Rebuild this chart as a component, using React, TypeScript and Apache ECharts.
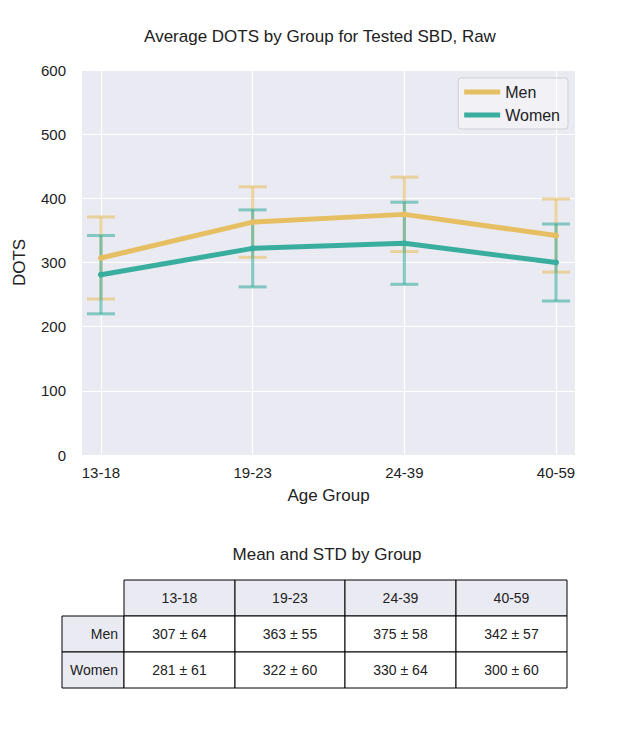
import { useEffect, useRef } from 'react';
import * as echarts from 'echarts';

const groups = ['13-18', '19-23', '24-39', '40-59'];
const menMean = [307, 363, 375, 342];
const menStd = [64, 55, 58, 57];
const womenMean = [281, 322, 330, 300];
const womenStd = [61, 60, 64, 60];
const yTicks = [0, 100, 200, 300, 400, 500, 600];

const MEN = '#e6bf63';
const WOMEN = '#3aae9e';
const FONT = 'Liberation Sans, Arial, sans-serif';

function errorSeries(name: string, mean: number[], std: number[], color: string) {
  return {
    type: 'custom',
    name: name + ' err',
    z: 1,
    silent: true,
    data: mean.map((m, i) => [i, m - std[i], m + std[i]]),
    renderItem: (_p: any, api: any) => {
      const lo = api.coord([api.value(0), api.value(1)]);
      const hi = api.coord([api.value(0), api.value(2)]);
      const w = 14;
      const style = { stroke: color, lineWidth: 3, opacity: 0.6 };
      return {
        type: 'group',
        children: [
          { type: 'line', shape: { x1: lo[0], y1: lo[1], x2: hi[0], y2: hi[1] }, style },
          { type: 'line', shape: { x1: lo[0] - w, y1: lo[1], x2: lo[0] + w, y2: lo[1] }, style },
          { type: 'line', shape: { x1: hi[0] - w, y1: hi[1], x2: hi[0] + w, y2: hi[1] }, style },
        ],
      };
    },
  };
}

function tableGraphics() {
  const colX = [62, 124, 235, 345, 456, 567];
  const rowY = [580, 616, 652, 688];
  const els: any[] = [];
  const rows = [
    ['Men', ...menMean.map((m, i) => `${m} ± ${menStd[i]}`)],
    ['Women', ...womenMean.map((m, i) => `${m} ± ${womenStd[i]}`)],
  ];
  const cell = (c: number, r: number, text: string, header: boolean, align = 'center') => {
    const x = colX[c], y = rowY[r], w = colX[c + 1] - x, h = rowY[r + 1] - y;
    els.push({
      type: 'rect',
      shape: { x, y, width: w, height: h },
      style: { fill: header ? '#eaeaf2' : '#ffffff', stroke: '#000', lineWidth: 1 },
    });
    els.push({
      type: 'text',
      x: align === 'right' ? x + w - 6 : x + w / 2,
      y: y + h / 2,
      style: { text, fill: '#222', fontSize: 14, fontFamily: FONT, align, verticalAlign: 'middle' },
    });
  };
  groups.forEach((g, i) => cell(i + 1, 0, g, true));
  rows.forEach((row, r) => row.forEach((t, c) => cell(c, r + 1, t, c === 0, c === 0 ? 'right' : 'center')));
  els.push({
    type: 'text', x: 327, y: 554,
    style: { text: 'Mean and STD by Group', fill: '#222', fontSize: 17, fontFamily: FONT, align: 'center', verticalAlign: 'middle' },
  });
  return els;
}

export default function App() {
  const ref = useRef<HTMLDivElement>(null);
  useEffect(() => {
    document.body.style.margin = '0';
    if (!ref.current) return;
    const chart = echarts.init(ref.current, null, { renderer: 'svg' });
    chart.setOption({
      animation: false,
      textStyle: { fontFamily: FONT },
      title: {
        text: 'Average DOTS by Group for Tested SBD, Raw',
        left: 'center', top: 23,
        textStyle: { fontSize: 17, fontWeight: 'normal', color: '#222', fontFamily: FONT },
      },
      grid: { left: 82, right: 65, top: 70, height: 385, backgroundColor: '#eaeaf2', show: true, borderWidth: 0 },
      legend: {
        orient: 'vertical', right: 72, top: 78,
        data: ['Men', 'Women'],
        icon: 'rect', itemWidth: 36, itemHeight: 5, itemGap: 7,
        padding: [6, 8, 6, 6],
        backgroundColor: 'rgba(255,255,255,0.35)', borderColor: '#cfcfd6', borderWidth: 1, borderRadius: 3,
        textStyle: { fontSize: 16, color: '#222', fontFamily: FONT },
      },
      xAxis: {
        type: 'value', min: -0.125, max: 3.125,
        name: 'Age Group', nameLocation: 'middle', nameGap: 32,
        nameTextStyle: { fontSize: 17, color: '#222', fontFamily: FONT },
        axisLine: { show: false },
        axisTick: { show: false, customValues: [0, 1, 2, 3] },
        axisLabel: { customValues: [0, 1, 2, 3], formatter: (v: number) => groups[Math.round(v)] ?? '', fontSize: 15, color: '#222', margin: 10 },
        splitLine: { show: true, lineStyle: { color: '#fff', width: 1.2 } },
      },
      yAxis: {
        type: 'value', min: 0, max: 600, interval: 100,
        name: 'DOTS', nameLocation: 'middle', nameGap: 54,
        nameTextStyle: { fontSize: 17, color: '#222', fontFamily: FONT },
        axisLine: { show: false }, axisTick: { show: false },
        axisLabel: { fontSize: 15, color: '#222', margin: 16, formatter: (v: number) => (yTicks.includes(v) ? String(v) : '') },
        splitLine: { lineStyle: { color: '#fff', width: 1.2 } },
      },
      series: [
        errorSeries('Men', menMean, menStd, MEN),
        errorSeries('Women', womenMean, womenStd, WOMEN),
        {
          type: 'line', name: 'Men', z: 3, color: MEN,
          data: menMean.map((m, i) => [i, m]),
          lineStyle: { width: 5, color: MEN }, symbol: 'circle', symbolSize: 6, itemStyle: { color: MEN },
        },
        {
          type: 'line', name: 'Women', z: 3, color: WOMEN,
          data: womenMean.map((m, i) => [i, m]),
          lineStyle: { width: 5, color: WOMEN }, symbol: 'circle', symbolSize: 6, itemStyle: { color: WOMEN },
        },
      ],
      graphic: tableGraphics(),
    });
    return () => chart.dispose();
  }, []);
  return <div ref={ref} style={{ width: 640, height: 747 }} />;
}
